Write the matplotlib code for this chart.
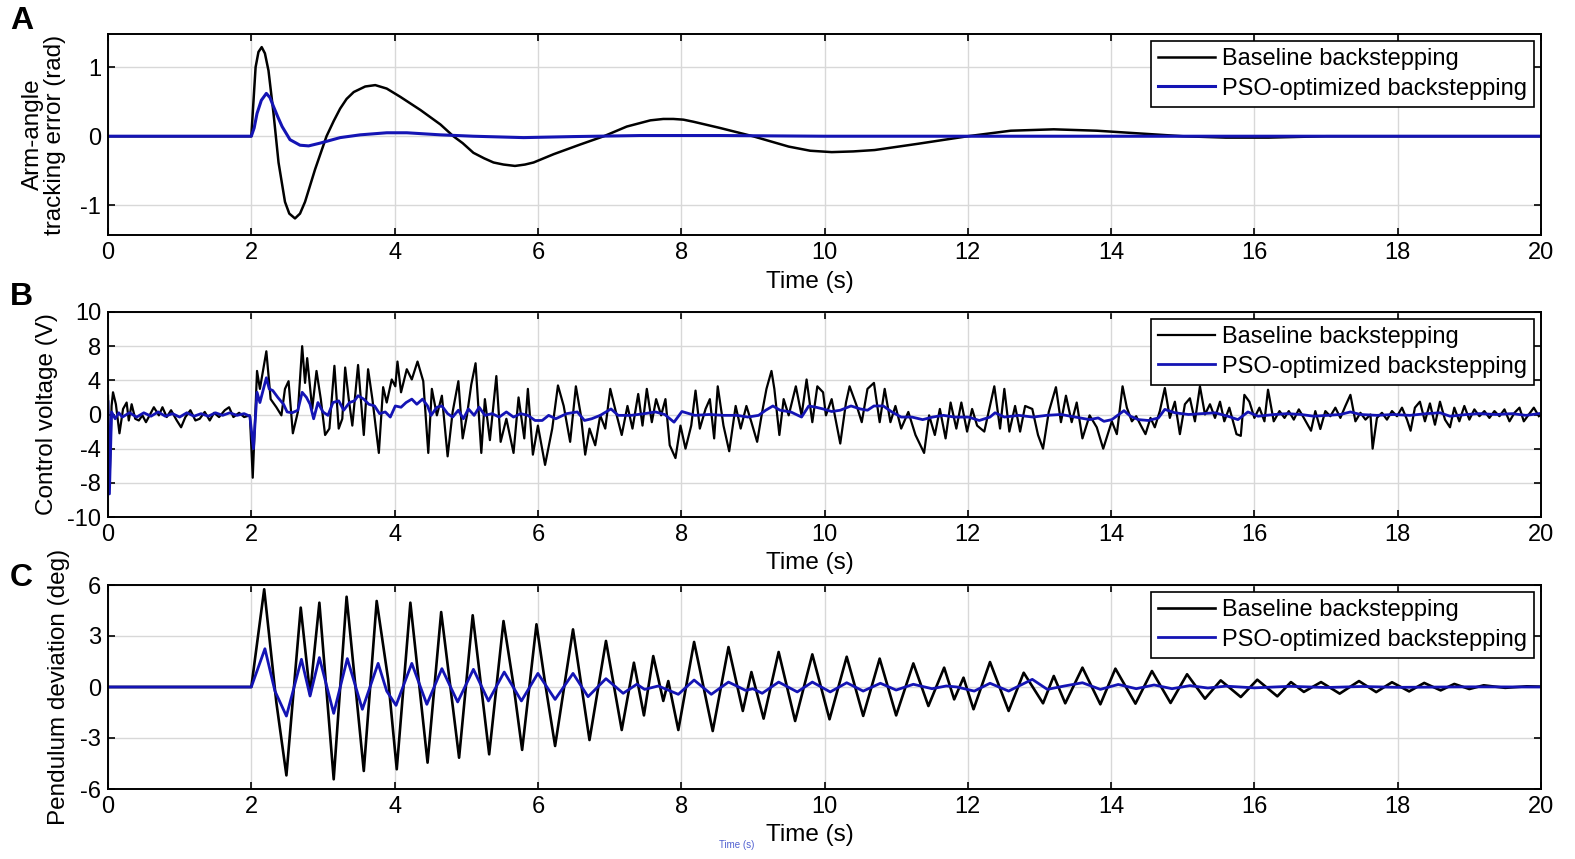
import matplotlib
matplotlib.use("Agg")
import matplotlib.pyplot as plt

plt.rcParams['font.family'] = ['Liberation Sans', 'DejaVu Sans']
plt.rcParams['axes.unicode_minus'] = False

BLACK = '#000000'
BLUE = '#1414b4'
labels = ['Baseline backstepping', 'PSO-optimized backstepping']

# ---------------- Panel A: arm-angle tracking error (rad) ----------------
a_black_t = [0, 2.0, 2.03, 2.06, 2.1, 2.145, 2.19, 2.24, 2.31, 2.38, 2.47, 2.53, 2.61, 2.68,
             2.75, 2.89, 3.05, 3.15, 3.24, 3.33, 3.43, 3.59, 3.73, 3.89, 4.08, 4.36, 4.64, 4.82,
             4.95, 5.1, 5.25, 5.38, 5.52, 5.68, 5.82, 5.94, 6.22, 6.59, 6.92, 7.24, 7.57, 7.75,
             7.89, 8.03, 8.17, 8.54, 9.0, 9.5, 9.8, 10.1, 10.4, 10.7, 11.3, 12.0, 12.6, 13.2,
             13.8, 14.4, 15.0, 15.6, 16.2, 17.0, 20.0]
a_black_v = [0, 0, 0.5, 1.0, 1.22, 1.29, 1.2, 0.95, 0.33, -0.38, -0.95, -1.12, -1.19, -1.12,
             -0.95, -0.48, 0.0, 0.22, 0.40, 0.54, 0.64, 0.72, 0.74, 0.69, 0.57, 0.38, 0.17, 0.0,
             -0.1, -0.24, -0.32, -0.38, -0.41, -0.43, -0.41, -0.38, -0.26, -0.12, 0.0, 0.14, 0.23, 0.25,
             0.25, 0.24, 0.21, 0.12, 0.0, -0.15, -0.21, -0.23, -0.22, -0.2, -0.11, 0.0, 0.08, 0.1,
             0.08, 0.04, 0.0, -0.02, -0.02, 0.0, 0.0]
a_blue_t = [0, 2.0, 2.04, 2.08, 2.14, 2.21, 2.26, 2.31, 2.37, 2.43, 2.54, 2.68, 2.8, 2.96,
            3.24, 3.52, 3.89, 4.17, 4.64, 5.1, 5.8, 6.5, 7.43, 8.54, 10.0, 20.0]
a_blue_v = [0, 0, 0.12, 0.33, 0.52, 0.62, 0.56, 0.43, 0.28, 0.14, -0.05, -0.13, -0.14, -0.10,
            -0.02, 0.02, 0.05, 0.05, 0.02, 0.0, -0.02, -0.005, 0.01, 0.01, 0.0, 0.0]

# ---------------- Panel B: control voltage (V) ----------------
b_black_t = [0.0, 0.02, 0.05, 0.07, 0.11, 0.16, 0.21, 0.26, 0.29, 0.33, 0.38, 0.43, 0.48, 0.53,
             0.58, 0.64, 0.71, 0.76, 0.82, 0.88, 0.96, 1.02, 1.08, 1.15, 1.22, 1.28, 1.35, 1.42,
             1.48, 1.55, 1.63, 1.69, 1.75, 1.83, 1.9, 1.98,
             2.02, 2.08, 2.12, 2.21, 2.27, 2.35, 2.42, 2.47, 2.52, 2.58, 2.65, 2.71, 2.75, 2.78,
             2.85, 2.91, 2.97, 3.03, 3.09, 3.16, 3.22, 3.27, 3.31, 3.36, 3.41, 3.49, 3.57, 3.63,
             3.69, 3.78, 3.84, 3.89, 3.96, 4.01, 4.04, 4.09, 4.17, 4.24, 4.32, 4.40, 4.47, 4.52,
             4.59, 4.66, 4.74, 4.81, 4.89, 4.95, 5.01, 5.07, 5.13, 5.21, 5.26, 5.33, 5.42, 5.48,
             5.56, 5.66, 5.73, 5.81, 5.86, 5.93, 6.0,
             6.1, 6.2, 6.28, 6.36, 6.45, 6.53, 6.6, 6.66, 6.72, 6.8, 6.87, 6.94, 7.01, 7.1, 7.17,
             7.25, 7.32, 7.4, 7.46, 7.52, 7.59, 7.65, 7.72, 7.78, 7.84, 7.92, 7.99, 8.06, 8.14,
             8.2, 8.26, 8.34, 8.4, 8.46, 8.51, 8.59, 8.67, 8.76, 8.83, 8.91, 8.98, 9.06, 9.13,
             9.19, 9.26, 9.3, 9.37, 9.43, 9.5, 9.6, 9.68, 9.75, 9.83, 9.9, 9.98, 10.02, 10.1,
             10.22, 10.3, 10.35, 10.45, 10.52, 10.6, 10.69, 10.77, 10.84, 10.92, 10.99, 11.07,
             11.17, 11.27, 11.39, 11.46, 11.54, 11.61, 11.69, 11.76, 11.84, 11.91, 11.99, 12.06,
             12.13, 12.23, 12.31, 12.37, 12.45, 12.51, 12.58, 12.66, 12.73, 12.8, 12.9, 12.98,
             13.05, 13.13, 13.23, 13.3, 13.37, 13.45, 13.52, 13.6, 13.7,
             13.8, 13.89, 14.01, 14.08, 14.16, 14.22, 14.29, 14.35, 14.41, 14.48, 14.55, 14.61,
             14.68, 14.75, 14.82, 14.89, 14.96, 15.03, 15.1, 15.17, 15.24, 15.31, 15.38, 15.45,
             15.52, 15.58, 15.65, 15.75, 15.81, 15.86, 15.93, 16.0, 16.07, 16.14, 16.19, 16.27,
             16.35, 16.42, 16.48, 16.55, 16.62, 16.69, 16.79, 16.85, 16.92, 16.99, 17.06, 17.13,
             17.2, 17.27, 17.34, 17.41, 17.48, 17.55, 17.62, 17.65, 17.71, 17.78, 17.85, 17.92,
             17.99, 18.06, 18.13, 18.18, 18.24, 18.31, 18.38, 18.45, 18.52, 18.59, 18.66, 18.73,
             18.79, 18.86, 18.93, 19.0, 19.07, 19.14, 19.21, 19.28, 19.35, 19.42, 19.49, 19.56,
             19.63, 19.7, 19.76, 19.83, 19.9, 19.97]
b_black_v = [2.2, -8.5, 1.0, 2.6, 1.2, -2.2, 0.65, 1.4, -0.7, 1.2, -0.5, -0.7, -0.1, -0.9,
             -0.1, 0.85, -0.1, 0.85, -0.3, 0.5, -0.7, -1.5, -0.3, 0.5, -0.7, -0.5, 0.3, -0.7,
             0.2, -0.3, 0.5, 0.85, -0.3, 0.2, -0.3, -0.1,
             -7.4, 5.1, 3.0, 7.4, 1.8, 0.85, -0.1, 3.0, 3.9, -2.2, 0.3, 8.0, 3.7, 6.6,
             0.65, 5.1, 1.8, -2.4, -1.65, 5.7, -1.65, -0.5, 5.5, 1.8, -1.3, 5.8, -2.4, 5.3,
             1.8, -4.5, 3.2, 1.4, 4.1, 3.3, 6.2, 2.6, 5.3, 4.1, 6.2, 3.9, -4.5, 3.0,
             -0.1, 2.2, -4.9, 0.3, 3.9, -2.8, -0.1, 3.5, 6.0, -4.5, 1.8, -3.0, 4.5, -3.2,
             -0.5, -4.5, 2.0, -2.8, 3.0, -4.7, -1.3,
             -5.9, -1.65, 3.4, 1.0, -3.2, 3.3, -0.1, -4.7, -1.65, -3.6, -0.1, -1.65, 3.0, -0.1, -2.4,
             1.0, -1.65, 2.4, -1.3, 3.0, -0.9, 1.8, -0.1, 1.8, -3.6, -5.1, -1.3, -4.0, -1.3,
             2.8, -1.65, 0.65, 1.8, -2.8, 3.3, -1.3, -4.3, 1.0, -1.65, 1.0, -0.9, -3.2, 0.3,
             3.0, 5.1, 3.0, -2.4, 1.8, -0.1, 3.3, -0.1, 4.1, -0.9, 3.3, 2.6, -0.1, 1.8,
             -3.4, 1.4, 3.3, 1.0, -0.9, 3.0, 3.7, -0.9, 3.0, -0.9, 1.0, -1.65,
             0.3, -2.4, -4.5, -0.1, -2.4, 0.65, -2.8, 1.4, -1.65, 1.4, -2.0, 0.65,
             -1.3, -2.0, 1.0, 3.3, -1.65, 3.0, -2.0, 1.0, -2.0, 1.0, 0.65, -2.4,
             -4.0, 0.3, 3.2, -0.9, 2.2, -0.9, 1.4, -2.8, -0.1,
             -1.5, -4.0, -0.8, -2.3, 3.3, 0.8, -0.8, -0.2, -1.2, -2.3, -0.4, -1.5,
             0.4, 3.1, -0.4, 1.5, -2.3, 1.2, 1.9, -0.8, 3.3, 0.0, 1.2, -0.4,
             1.5, -0.8, 0.8, -2.3, -2.5, 2.3, 1.5, -0.4, 0.8, -0.8, 2.9, -0.8,
             0.4, -0.4, 0.4, -0.6, 0.6, -0.4, -1.9, 0.4, -1.7, 0.4, -0.2, 0.8,
             -0.4, 1.0, 2.3, -0.8, 0.2, -0.6, 0.0, -4.0, -0.4, 0.2, -0.6, 0.4,
             -0.2, 0.8, -0.6, -1.9, 0.8, 1.5, -0.8, 1.3, -1.2, 1.5, -0.6, -1.5,
             0.8, -0.8, 1.0, -0.6, 0.6, -0.2, 0.4, -0.4, 0.4, -0.2, 0.6, -0.8,
             0.2, 0.8, -0.8, 0.0, 0.8, -0.2]

b_blue_t = [0.0, 0.02, 0.05, 0.1, 0.15, 0.2, 0.3, 0.4, 0.5, 0.6, 0.7, 0.8, 0.9, 1.0, 1.1, 1.2,
            1.3, 1.4, 1.5, 1.6, 1.7, 1.8, 1.9, 1.98,
            2.03, 2.08, 2.12, 2.17, 2.21, 2.25, 2.3, 2.37, 2.45, 2.5, 2.57, 2.65, 2.71, 2.77,
            2.82, 2.87, 2.93, 3.0, 3.07, 3.14, 3.22, 3.29, 3.37, 3.44, 3.49, 3.57, 3.64, 3.72,
            3.79, 3.87, 3.94, 4.01, 4.09, 4.16, 4.24, 4.31, 4.39, 4.46, 4.51, 4.59, 4.66, 4.74,
            4.81, 4.89, 4.96, 5.03, 5.11, 5.18, 5.26, 5.36, 5.46, 5.56, 5.66, 5.76, 5.86, 5.96,
            6.06, 6.15, 6.25, 6.4, 6.55, 6.65, 6.75, 6.87, 7.02, 7.12, 7.3, 7.49, 7.64, 7.77,
            7.9, 8.01, 8.19, 8.39, 8.59, 8.78, 8.93, 9.08, 9.18, 9.28, 9.38, 9.53, 9.68, 9.78,
            9.88, 9.98, 10.1, 10.22, 10.37, 10.5, 10.6, 10.69, 10.82, 10.94, 11.07, 11.22,
            11.37, 11.51, 11.66, 11.81, 12.01, 12.16, 12.31, 12.38, 12.51, 12.71, 12.91, 13.1,
            13.3, 13.5, 13.7, 13.82, 13.9, 14.01, 14.18, 14.27, 14.38, 14.52, 14.66, 14.75,
            14.89, 15.08, 15.26, 15.45, 15.63, 15.77, 15.91, 16.05, 16.28, 16.46, 16.65, 16.83,
            17.02, 17.2, 17.34, 17.48, 17.71, 17.94, 18.17, 18.4, 18.59, 18.73, 18.96, 19.14,
            19.37, 19.6, 19.79, 19.97]
b_blue_v = [1.5, -9.3, 0.3, -0.5, 0.2, -0.3, 0.2, -0.3, 0.2, -0.2, 0.3, -0.2, 0.1, -0.3, 0.2, -0.2,
            0.1, -0.2, 0.2, -0.1, 0.2, -0.1, 0.1, -0.2,
            -4.0, 2.6, 1.4, 3.0, 4.3, 3.0, 2.8, 2.0, 1.2, 0.3, 0.2, 0.5, 2.6, 2.0,
            1.2, -0.5, 1.4, 0.3, -0.1, 1.4, 1.6, 0.5, 1.4, 1.6, 2.2, 1.8, 1.2, 1.0,
            0.1, 0.3, -0.3, 1.0, 0.85, 1.4, 1.8, 1.2, 1.8, 1.0, -0.1, 0.85, 1.0, 0.1,
            -0.3, 0.5, -0.5, 0.65, -0.1, 0.85, -0.1, 0.1, -0.3, 0.3, -0.3, 0.1, -0.1, -0.7,
            -0.7, -0.1, -0.5, 0.1, 0.3, -0.7, -0.5, -0.1, 0.65, -0.1, -0.1, 0.1, 0.3, 0.0,
            -0.9, 0.35, -0.1, 0.0, -0.1, -0.1, -0.3, -0.1, 0.5, 1.0, 0.5, 0.3, -0.3, 1.0,
            0.85, 0.65, 0.35, 0.5, 1.0, 0.65, 0.5, 1.0, 1.0, 0.3, -0.3, -0.3,
            -0.6, -0.3, -0.1, -0.3, -0.3, -0.7, -0.3, 0.2, -0.3, -0.1, -0.3, -0.1,
            0.0, -0.3, -0.6, -0.4, -0.8, -0.6, 0.45, -0.2, -0.6, -0.7, -0.4, 0.6,
            0.2, 0.0, 0.1, 0.2, -0.2, -0.6, 0.3, -0.2, 0.0, 0.1, 0.0, -0.2,
            -0.1, 0.0, 0.3, 0.0, -0.1, 0.0, -0.1, 0.1, 0.2, -0.2, 0.0, 0.1,
            0.0, 0.1, -0.1, 0.1]

# ---------------- Panel C: pendulum deviation (deg) ----------------
c_black_t = [0, 2.0, 2.18, 2.35, 2.49, 2.69, 2.82, 2.95, 3.15, 3.33, 3.57, 3.75, 3.91, 4.03,
             4.22, 4.46, 4.65, 4.90, 5.09, 5.32, 5.52, 5.66, 5.78, 5.98, 6.1, 6.24, 6.49, 6.72,
             6.95, 7.17, 7.34, 7.48, 7.61, 7.75, 7.82, 7.96, 8.18, 8.44, 8.66, 8.86, 8.98, 9.15,
             9.36, 9.59, 9.83, 10.07, 10.31, 10.54, 10.77, 11.0, 11.24, 11.45, 11.67, 11.81,
             11.94, 12.08, 12.31, 12.57, 12.78, 13.05, 13.2, 13.36, 13.6, 13.85, 14.06, 14.34,
             14.57, 14.83, 15.06, 15.31, 15.53, 15.81, 16.04, 16.32, 16.51, 16.69, 16.93, 17.19,
             17.46, 17.7, 17.92, 18.16, 18.37, 18.6, 18.79, 19.0, 19.2, 19.5, 19.8, 20.0]
c_black_v = [0, 0, 5.75, -0.92, -5.2, 4.67, -0.43, 4.96, -5.43, 5.31, -4.94, 5.06, 0.45, -4.84,
             4.96, -4.45, 4.41, -4.16, 4.22, -3.96, 3.88, 0.1, -3.7, 3.69, 0.25, -3.47, 3.39, -3.12,
             2.71, -2.53, 1.43, -1.67, 1.82, -0.82, 0.35, -2.53, 2.65, -2.59, 2.35, -1.41, 0.88, -1.86,
             2.06, -2.0, 1.92, -1.9, 1.78, -1.7, 1.67, -1.67, 1.39, -1.12, 1.14, -0.73,
             0.55, -1.31, 1.47, -1.41, 0.84, -0.96, 0.65, -0.96, 1.14, -1.02, 1.08, -0.98,
             0.94, -0.94, 0.75, -0.69, 0.39, -0.59, 0.43, -0.55, 0.29, -0.29, 0.29, -0.39,
             0.35, -0.3, 0.28, -0.26, 0.24, -0.2, 0.18, -0.12, 0.1, -0.05, 0.04, 0.02]
c_blue_t = [0, 2.0, 2.19, 2.33, 2.49, 2.70, 2.82, 2.95, 3.15, 3.34, 3.55, 3.77, 3.89, 4.02,
            4.24, 4.45, 4.66, 4.88, 5.10, 5.31, 5.53, 5.77, 6.0, 6.24, 6.49, 6.7, 6.95, 7.19,
            7.38, 7.49, 7.68, 7.96, 8.18, 8.42, 8.66, 8.9, 9.0, 9.13, 9.36, 9.62, 9.83, 10.08,
            10.31, 10.54, 10.78, 11.0, 11.24, 11.5, 11.7, 11.85, 12.09, 12.31, 12.57, 12.9,
            13.11, 13.35, 13.6, 13.85, 14.1, 14.35, 14.6, 14.85, 15.1, 15.35, 15.6, 16.0, 16.5,
            17.0, 17.5, 18.0, 19.0, 20.0]
c_blue_v = [0, 0, 2.25, -0.24, -1.71, 1.63, -0.53, 1.73, -1.55, 1.67, -1.31, 1.39, -0.24, -1.08,
            1.39, -1.02, 1.08, -0.88, 1.04, -0.82, 0.88, -0.82, 0.8, -0.73, 0.8, -0.57, 0.49, -0.37,
            0.16, -0.14, 0.06, -0.43, 0.41, -0.43, 0.29, -0.2, -0.1, -0.37, 0.29, -0.29, 0.29, -0.29,
            0.25, -0.24, 0.22, -0.18, 0.16, -0.1, 0.06, 0.0, -0.24, 0.22, -0.24, 0.45,
            -0.14, 0.06, 0.25, -0.14, 0.15, -0.1, 0.12, -0.1, 0.08, -0.06, 0.05, -0.05, 0.04,
            -0.03, 0.03, -0.02, 0.01, 0.0]

x_ticks = [0, 2, 4, 6, 8, 10, 12, 14, 16, 18, 20]

fig = plt.figure(figsize=(15.75, 8.59), dpi=100)
W, H = 1575, 859

def make_axes(top_px, bot_px):
    left, right = 108, 1541
    return fig.add_axes([left / W, 1 - bot_px / H, (right - left) / W, (bot_px - top_px) / H])

axA = make_axes(34, 235)
axB = make_axes(312, 517)
axC = make_axes(585, 789)

def style(ax, ylabel, ylx, xly):
    ax.set_xlim(0, 20)
    ax.set_xticks(x_ticks)
    ax.grid(True, color='#d8d8d8', linewidth=1.0)
    ax.set_axisbelow(True)
    ax.tick_params(direction='in', top=True, right=True, length=5, width=1.2,
                   labelsize=17, pad=5, colors='black')
    for s in ax.spines.values():
        s.set_linewidth(1.4)
        s.set_color('black')
    ax.set_xlabel('Time (s)', fontsize=17.5)
    ax.xaxis.set_label_coords(0.49, xly)
    ax.xaxis.label.set_va('top')
    ax.set_ylabel(ylabel, fontsize=17.5, linespacing=1.0)
    ax.yaxis.set_label_coords(ylx, 0.5)
    leg = ax.legend(labels, loc='upper right', fontsize=17, frameon=True, fancybox=False,
                    edgecolor='black', framealpha=1, handlelength=2.4, handletextpad=0.3,
                    borderpad=0.3, labelspacing=0.32, borderaxespad=0.3)
    leg.get_frame().set_linewidth(1.2)

axA.plot(a_black_t, a_black_v, color=BLACK, lw=1.8)
axA.plot(a_blue_t, a_blue_v, color=BLUE, lw=2.2)
axA.set_ylim(-1.43, 1.48)
axA.set_yticks([-1, 0, 1])
style(axA, 'Arm-angle\ntracking error (rad)', -0.029, -0.18)

axB.plot(b_black_t, b_black_v, color=BLACK, lw=1.6)
axB.plot(b_blue_t, b_blue_v, color=BLUE, lw=2.0)
axB.set_ylim(-12, 12)
axB.set_yticks([-12, -8, -4, 0, 4, 8, 12])
axB.set_yticklabels(['-10', '-8', '-4', '0', '4', '8', '10'])
style(axB, 'Control voltage (V)', -0.035, -0.172)

axC.plot(c_black_t, c_black_v, color=BLACK, lw=1.9)
axC.plot(c_blue_t, c_blue_v, color=BLUE, lw=2.0)
axC.set_ylim(-6, 6)
axC.set_yticks([-6, -3, 0, 3, 6])
style(axC, 'Pendulum deviation (deg)', -0.0265, -0.172)

for letter, ypx in [('A', 6), ('B', 282), ('C', 563)]:
    fig.text(10 / W, 1 - ypx / H, letter, fontsize=23, fontweight='bold', va='top', ha='left')

fig.text(737 / W, 1 - 845 / H, 'Time (s)', fontsize=7, color='#5060d0', ha='center', va='center')

fig.savefig('out.png', dpi=100)
